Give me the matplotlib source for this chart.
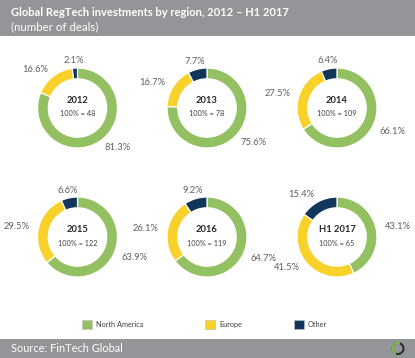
import numpy as np
import matplotlib.pyplot as plt
from matplotlib.patches import Rectangle, Wedge

plt.rcParams['font.family'] = ['Lato', 'DejaVu Sans']

# data
years = ['2012', '2013', '2014', '2015', '2016', 'H1 2017']
totals = [48, 78, 109, 122, 119, 65]
north_america = [81.3, 75.6, 66.1, 63.9, 64.7, 43.1]
europe = [16.6, 16.7, 27.5, 29.5, 26.1, 41.5]
other = [2.1, 7.7, 6.4, 6.6, 9.2, 15.4]
regions = ['North America', 'Europe', 'Other']
colors = ['#93C162', '#F8D12A', '#12365A']

W, H = 415, 358
fig = plt.figure(figsize=(W / 100, H / 100), dpi=100)
fig.patch.set_facecolor('white')
renderer = fig.canvas.get_renderer()


def fit_size(txt, width_px, **kw):
    # font size that gives a piece of text the wanted pixel width
    t = fig.text(0, 0, txt, fontsize=10, **kw)
    w = t.get_window_extent(renderer).width
    t.remove()
    return 10 * width_px / w


# background axes in pixel coordinates
bg = fig.add_axes([0, 0, 1, 1])
bg.set_xlim(0, W)
bg.set_ylim(H, 0)
bg.axis('off')
band = '#939598'
bg.add_patch(Rectangle((0, 0), W, 36, color=band, lw=0))
bg.add_patch(Rectangle((0, 339), W, 19, color=band, lw=0))

title = 'Global RegTech investments by region, 2012 \u2013 H1 2017'
bg.text(11, 12.5, title, color='white', va='center', ha='left',
        fontweight='bold', fontsize=fit_size(title, 278, fontweight='bold'))
sub = '(number of deals)'
bg.text(11, 27, sub, color='white', va='center', ha='left',
        fontsize=fit_size(sub, 88))
src = 'Source: FinTech Global'
bg.text(11, 348.5, src, color='white', va='center', ha='left',
        fontsize=fit_size(src, 112))

# small logo ring in the footer
bg.add_patch(Wedge((398, 348.5), 6.5, 0, 360, width=2, color='#2b2b2b', lw=0))
bg.add_patch(Wedge((398, 348.5), 6.5, 110, 290, width=2, color='#7DC242', lw=0))

# legend
leg_fs = fit_size('North America', 48)
leg_x = [82, 205, 294]
for x, name, c in zip(leg_x, regions, colors):
    bg.add_patch(Rectangle((x, 319.5), 9.5, 9.5, facecolor=c,
                           edgecolor='#bbbbbb', lw=0.4))
    bg.text(x + 14, 324.5, name, color='#404040', fontsize=leg_fs,
            va='center', ha='left')

pct_fs = fit_size('81.3%', 26)
year_fs = fit_size('2012', 22, fontweight='bold')
tot_fs = fit_size('100% = 48', 35)

centers = [(77.5, 108), (207, 108), (337, 108),
           (77.5, 237), (207, 237), (337, 237)]
R = 40  # outer radius in pixels
half = 1.5 * R

for i, year in enumerate(years):
    cx, cy = centers[i]
    ax = fig.add_axes([(cx - half) / W, 1 - (cy + half) / H,
                       2 * half / W, 2 * half / H])
    vals = [north_america[i], europe[i], other[i]]
    wedges, _ = ax.pie(vals, colors=colors, startangle=90, counterclock=False,
                       radius=1, wedgeprops=dict(width=0.27, edgecolor='white',
                                                 linewidth=0.9))
    ax.set_xlim(-1.5, 1.5)
    ax.set_ylim(-1.5, 1.5)
    ax.set_aspect('equal')
    ax.axis('off')
    for w, v in zip(wedges, vals):
        ang = np.deg2rad((w.theta1 + w.theta2) / 2)
        x, y = 1.22 * np.cos(ang), 1.2 * np.sin(ang)
        if abs(np.cos(ang)) < 0.35:
            ha = 'center'
        elif x > 0:
            ha = 'left'
        else:
            ha = 'right'
        ax.text(x, y, f'{v:.1f}%', ha=ha, va='center', fontsize=pct_fs,
                color='#606060')
    ax.text(0, 0.18, year, ha='center', va='center', fontsize=year_fs,
            fontweight='bold', color='#262626')
    ax.text(0, -0.15, f'100% = {totals[i]}', ha='center', va='center',
            fontsize=tot_fs, color='#404040')

fig.savefig('out.png', dpi=100)
